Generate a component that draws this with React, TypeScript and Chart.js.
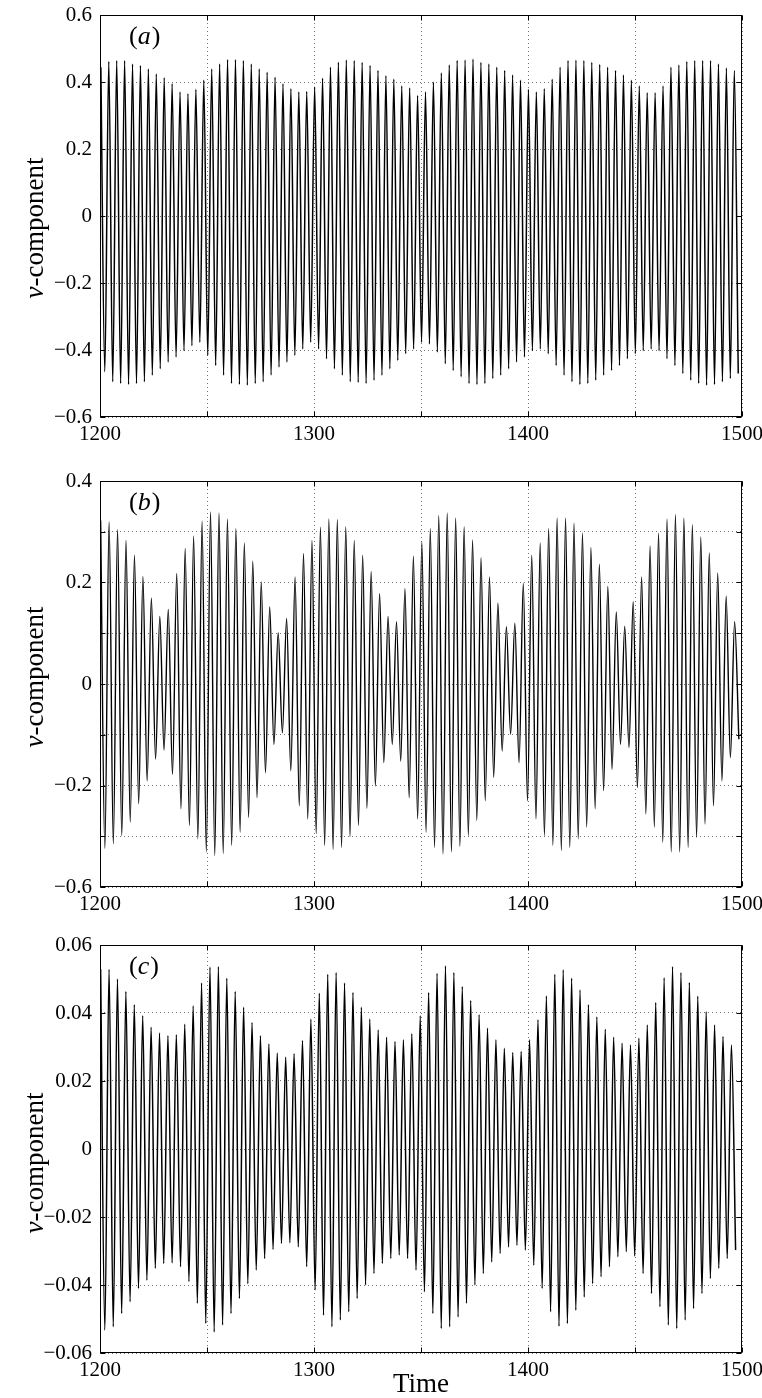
import React, { useEffect, useRef } from "react";
import { Chart, registerables } from "chart.js";

Chart.register(...registerables);

const SERIF = "'Liberation Serif', 'Times New Roman', Times, serif";
const GRID_COLOR = "rgba(0,0,0,0.55)";

// Shared time axis
const timeMin = 1200;
const timeMax = 1500;
const timeStep = 50;
const timeTickLabels = [1200, 1300, 1400, 1500];

// (a) successive crest / trough values of the v-component
const startA = 1200.4;
const periodA = 3.7;
const peaksA = [
  0.444, 0.461, 0.464, 0.464, 0.454, 0.449, 0.439, 0.424, 0.413, 0.395,
  0.37, 0.365, 0.378, 0.405, 0.439, 0.454, 0.467, 0.467, 0.464, 0.454,
  0.439, 0.429, 0.414, 0.395, 0.38, 0.37, 0.372, 0.385, 0.411, 0.444,
  0.459, 0.466, 0.464, 0.459, 0.449, 0.434, 0.419, 0.408, 0.388, 0.382,
  0.36, 0.37, 0.399, 0.427, 0.451, 0.464, 0.466, 0.469, 0.459, 0.454,
  0.444, 0.434, 0.421, 0.405, 0.378, 0.37, 0.38, 0.408, 0.444, 0.464,
  0.466, 0.464, 0.459, 0.452, 0.444, 0.434, 0.421, 0.405, 0.388, 0.368,
  0.368, 0.388, 0.444, 0.451, 0.461, 0.464, 0.464, 0.464, 0.454, 0.442,
  0.434,
];
const troughsA = [
  -0.465, -0.495, -0.5, -0.503, -0.5, -0.495, -0.475, -0.456, -0.436, -0.421,
  -0.402, -0.387, -0.377, -0.416, -0.446, -0.475, -0.5, -0.503, -0.505, -0.5,
  -0.495, -0.475, -0.451, -0.436, -0.416, -0.397, -0.377, -0.397, -0.426, -0.456,
  -0.475, -0.495, -0.497, -0.5, -0.49, -0.475, -0.456, -0.431, -0.411, -0.397,
  -0.377, -0.382, -0.406, -0.441, -0.461, -0.48, -0.5, -0.503, -0.5, -0.485,
  -0.475, -0.456, -0.436, -0.421, -0.402, -0.397, -0.411, -0.446, -0.475, -0.495,
  -0.503, -0.5, -0.49, -0.475, -0.461, -0.446, -0.426, -0.411, -0.402, -0.397,
  -0.402, -0.426, -0.446, -0.47, -0.49, -0.5, -0.505, -0.503, -0.495, -0.485,
  -0.47,
];
const yTicksA: [number, string][] = [
  [0.6, "0.6"], [0.4, "0.4"], [0.2, "0.2"], [0, "0"],
  [-0.2, "\u22120.2"], [-0.4, "\u22120.4"], [-0.6, "\u22120.6"],
];

// (b)
const startB = 1200.3;
const periodB = 3.95;
const peaksB = [
  0.322, 0.32, 0.304, 0.283, 0.254, 0.212, 0.169, 0.133, 0.147, 0.218,
  0.267, 0.291, 0.321, 0.339, 0.337, 0.325, 0.306, 0.278, 0.242, 0.201,
  0.152, 0.101, 0.129, 0.211, 0.257, 0.283, 0.309, 0.325, 0.324, 0.31,
  0.283, 0.254, 0.222, 0.178, 0.133, 0.123, 0.188, 0.252, 0.28, 0.306,
  0.332, 0.337, 0.327, 0.31, 0.284, 0.249, 0.211, 0.159, 0.113, 0.12,
  0.198, 0.254, 0.278, 0.306, 0.327, 0.327, 0.317, 0.297, 0.269, 0.236,
  0.192, 0.142, 0.114, 0.162, 0.211, 0.272, 0.297, 0.325, 0.334, 0.327,
  0.314, 0.29, 0.258, 0.219, 0.173, 0.123,
];
const troughsB = [
  -0.324, -0.315, -0.299, -0.272, -0.236, -0.191, -0.148, -0.13, -0.178, -0.246,
  -0.279, -0.305, -0.331, -0.338, -0.334, -0.318, -0.292, -0.263, -0.224, -0.175,
  -0.119, -0.096, -0.171, -0.24, -0.266, -0.295, -0.318, -0.326, -0.322, -0.301,
  -0.279, -0.245, -0.201, -0.155, -0.119, -0.152, -0.224, -0.266, -0.292, -0.322,
  -0.335, -0.331, -0.32, -0.299, -0.269, -0.23, -0.184, -0.132, -0.099, -0.155,
  -0.23, -0.266, -0.299, -0.318, -0.328, -0.322, -0.305, -0.282, -0.246, -0.21,
  -0.168, -0.119, -0.125, -0.204, -0.256, -0.282, -0.312, -0.331, -0.331, -0.322,
  -0.302, -0.276, -0.24, -0.191, -0.145, -0.109,
];
const yTicksB: [number, string][] = [
  [0.4, "0.4"], [0.2, "0.2"], [0, "0"], [-0.2, "\u22120.2"], [-0.4, "\u22120.6"],
];

// (c)
const startC = 1200.3;
const periodC = 3.93;
const peaksC = [
  0.0529, 0.0529, 0.05, 0.0463, 0.0424, 0.0392, 0.0358, 0.0341, 0.0333, 0.0336,
  0.0367, 0.0421, 0.0488, 0.0535, 0.0537, 0.0502, 0.0463, 0.0417, 0.0372, 0.0333,
  0.0309, 0.0282, 0.027, 0.028, 0.0319, 0.0382, 0.0458, 0.0514, 0.0519, 0.0488,
  0.046, 0.0417, 0.0382, 0.035, 0.0329, 0.0316, 0.0321, 0.0339, 0.0392, 0.046,
  0.0517, 0.0539, 0.0519, 0.0478, 0.0437, 0.0395, 0.0355, 0.0321, 0.0296, 0.0284,
  0.0287, 0.0321, 0.038, 0.045, 0.0514, 0.0527, 0.0502, 0.0468, 0.0424, 0.0388,
  0.0352, 0.0329, 0.0311, 0.0306, 0.0326, 0.0365, 0.0431, 0.0504, 0.0537, 0.0519,
  0.049, 0.0449, 0.0404, 0.0365, 0.0331, 0.0306,
];
const troughsC = [
  -0.0533, -0.0523, -0.0484, -0.0449, -0.041, -0.0386, -0.0351, -0.0337, -0.0335, -0.0346,
  -0.039, -0.0454, -0.0513, -0.0538, -0.0518, -0.0484, -0.044, -0.0396, -0.0356, -0.0322,
  -0.0295, -0.0278, -0.0276, -0.0288, -0.0346, -0.0415, -0.0489, -0.0523, -0.0503, -0.0479,
  -0.044, -0.04, -0.0366, -0.0337, -0.0322, -0.0312, -0.0322, -0.0356, -0.042, -0.0484,
  -0.0528, -0.0523, -0.0494, -0.0454, -0.04, -0.0366, -0.0332, -0.0307, -0.0288, -0.0283,
  -0.0297, -0.0342, -0.041, -0.0479, -0.0521, -0.0513, -0.0474, -0.0435, -0.0396, -0.0376,
  -0.0346, -0.0317, -0.0302, -0.0315, -0.0366, -0.0425, -0.0464, -0.0518, -0.0528, -0.0503,
  -0.0469, -0.0425, -0.0381, -0.0351, -0.0322, -0.0297,
];
const yTicksC: [number, string][] = [
  [0.06, "0.06"], [0.04, "0.04"], [0.02, "0.02"], [0, "0"],
  [-0.02, "\u22120.02"], [-0.04, "\u22120.04"], [-0.06, "\u22120.06"],
];

const yTitleItalic = "v";
const yTitleRest = "-component";
const xTitle = "Time";

type Pt = { x: number; y: number };

// Interleave crests and troughs at half-period spacing along the time axis.
function buildSeries(start: number, period: number, peaks: number[], troughs: number[]): Pt[] {
  const pts: Pt[] = [];
  peaks.forEach((p, i) => {
    pts.push({ x: start + i * period, y: p });
    if (i < troughs.length) pts.push({ x: start + (i + 0.5) * period, y: troughs[i] });
  });
  return pts;
}

interface PanelSpec {
  tag: string;
  top: number;
  height: number;
  xAxisHeight: number;
  yMin: number;
  yMax: number;
  yStep: number;
  yTicks: [number, string][];
  series: Pt[];
  lineColor: string;
  lineWidth: number;
  titleY: number; // canvas y of the rotated y-axis title centre
  showTime: boolean;
}

const panels: PanelSpec[] = [
  {
    tag: "a", top: 0, height: 457, xAxisHeight: 40,
    yMin: -0.6, yMax: 0.6, yStep: 0.2, yTicks: yTicksA,
    series: buildSeries(startA, periodA, peaksA, troughsA),
    lineColor: "#000", lineWidth: 1.5, titleY: 228, showTime: false,
  },
  {
    tag: "b", top: 466, height: 461, xAxisHeight: 40,
    yMin: -0.4, yMax: 0.4, yStep: 0.1, yTicks: yTicksB,
    series: buildSeries(startB, periodB, peaksB, troughsB),
    lineColor: "#000", lineWidth: 1.4, titleY: 211, showTime: false,
  },
  {
    tag: "c", top: 930, height: 468, xAxisHeight: 45,
    yMin: -0.06, yMax: 0.06, yStep: 0.02, yTicks: yTicksC,
    series: buildSeries(startC, periodC, peaksC, troughsC),
    lineColor: "#000", lineWidth: 1.5, titleY: 233, showTime: true,
  },
];

function lookupLabel(list: [number, string][], v: number): string {
  const hit = list.find(([val]) => Math.abs(val - v) < 1e-9);
  return hit ? hit[1] : "";
}

function Panel({ spec }: { spec: PanelSpec }) {
  const ref = useRef<HTMLCanvasElement | null>(null);

  useEffect(() => {
    const canvas = ref.current;
    if (!canvas) return;

    const framePlugin = {
      id: "frame",
      afterDatasetsDraw(chart: any) {
        const { ctx, chartArea: a, scales } = chart;
        const L = Math.round(a.left) + 0.5;
        const R = Math.round(a.right) - 0.5;
        const T = Math.round(a.top) + 0.5;
        const B = Math.round(a.bottom) - 0.5;
        const tick = 5;
        ctx.save();
        ctx.strokeStyle = "#000";
        ctx.lineWidth = 1;
        ctx.setLineDash([]);
        ctx.strokeRect(L, T, R - L, B - T);
        ctx.beginPath();
        for (const t of scales.x.ticks) {
          const px = Math.round(scales.x.getPixelForValue(t.value)) + 0.5;
          ctx.moveTo(px, B);
          ctx.lineTo(px, B - tick);
          ctx.moveTo(px, T);
          ctx.lineTo(px, T + tick);
        }
        for (const t of scales.y.ticks) {
          const py = Math.round(scales.y.getPixelForValue(t.value)) + 0.5;
          ctx.moveTo(L, py);
          ctx.lineTo(L + tick, py);
          ctx.moveTo(R, py);
          ctx.lineTo(R - tick, py);
        }
        ctx.stroke();

        ctx.fillStyle = "#000";
        ctx.textBaseline = "middle";
        ctx.textAlign = "left";

        // panel tag, e.g. (a)
        const tagUp = `26px ${SERIF}`;
        const tagIt = `italic 26px ${SERIF}`;
        let x = a.left + 29;
        const y = a.top + 22;
        ctx.font = tagUp;
        ctx.fillText("(", x, y);
        x += ctx.measureText("(").width;
        ctx.font = tagIt;
        ctx.fillText(spec.tag, x, y);
        x += ctx.measureText(spec.tag).width + 1;
        ctx.font = tagUp;
        ctx.fillText(")", x, y);

        // rotated y-axis title
        const titleUp = `27px ${SERIF}`;
        const titleIt = `italic 27px ${SERIF}`;
        ctx.save();
        ctx.translate(36, spec.titleY);
        ctx.rotate(-Math.PI / 2);
        ctx.font = titleIt;
        const w1 = ctx.measureText(yTitleItalic).width;
        ctx.font = titleUp;
        const w2 = ctx.measureText(yTitleRest).width;
        let tx = -(w1 + w2) / 2;
        ctx.font = titleIt;
        ctx.fillText(yTitleItalic, tx, 0);
        tx += w1;
        ctx.font = titleUp;
        ctx.fillText(yTitleRest, tx, 0);
        ctx.restore();

        if (spec.showTime) {
          ctx.font = titleUp;
          ctx.textAlign = "center";
          ctx.fillText(xTitle, (a.left + a.right) / 2, 455);
        }
        ctx.restore();
      },
    };

    const tickFont = { family: SERIF, size: 21 };

    const chart = new Chart(canvas, {
      type: "line",
      data: {
        datasets: [
          {
            data: spec.series,
            borderColor: spec.lineColor,
            borderWidth: spec.lineWidth,
            pointRadius: 0,
            fill: false,
            cubicInterpolationMode: "monotone",
          },
        ],
      },
      options: {
        responsive: false,
        animation: false,
        devicePixelRatio: 1,
        layout: { padding: { top: 15, right: 20, left: 0, bottom: 0 } },
        plugins: { legend: { display: false }, tooltip: { enabled: false } },
        events: [],
        scales: {
          x: {
            type: "linear",
            min: timeMin,
            max: timeMax,
            ticks: {
              stepSize: timeStep,
              autoSkip: false,
              maxRotation: 0,
              padding: 5,
              color: "#000",
              font: tickFont,
              callback: (v: any) => (timeTickLabels.includes(Number(v)) ? String(v) : ""),
            },
            grid: { color: GRID_COLOR, lineWidth: 1, drawTicks: false },
            border: { display: false, dash: [1, 3] },
            afterFit: (s: any) => {
              s.height = spec.xAxisHeight;
              s.paddingLeft = 0;
              s.paddingRight = 0;
            },
          },
          y: {
            type: "linear",
            min: spec.yMin,
            max: spec.yMax,
            ticks: {
              stepSize: spec.yStep,
              autoSkip: false,
              padding: 8,
              color: "#000",
              font: tickFont,
              callback: (v: any) => lookupLabel(spec.yTicks, Number(v)),
            },
            grid: { color: GRID_COLOR, lineWidth: 1, drawTicks: false },
            border: { display: false, dash: [1, 3] },
            afterFit: (s: any) => {
              s.width = 100;
              s.paddingTop = 0;
              s.paddingBottom = 0;
            },
          },
        },
      } as any,
      plugins: [framePlugin],
    });

    return () => chart.destroy();
  }, [spec]);

  return (
    <canvas
      ref={ref}
      width={762}
      height={spec.height}
      style={{ position: "absolute", left: 0, top: spec.top, width: 762, height: spec.height, display: "block" }}
    />
  );
}

export default function App() {
  return (
    <div style={{ position: "absolute", left: 0, top: 0, width: 762, height: 1398, background: "#fff", overflow: "hidden" }}>
      {panels.map((p) => (
        <Panel key={p.tag} spec={p} />
      ))}
    </div>
  );
}
